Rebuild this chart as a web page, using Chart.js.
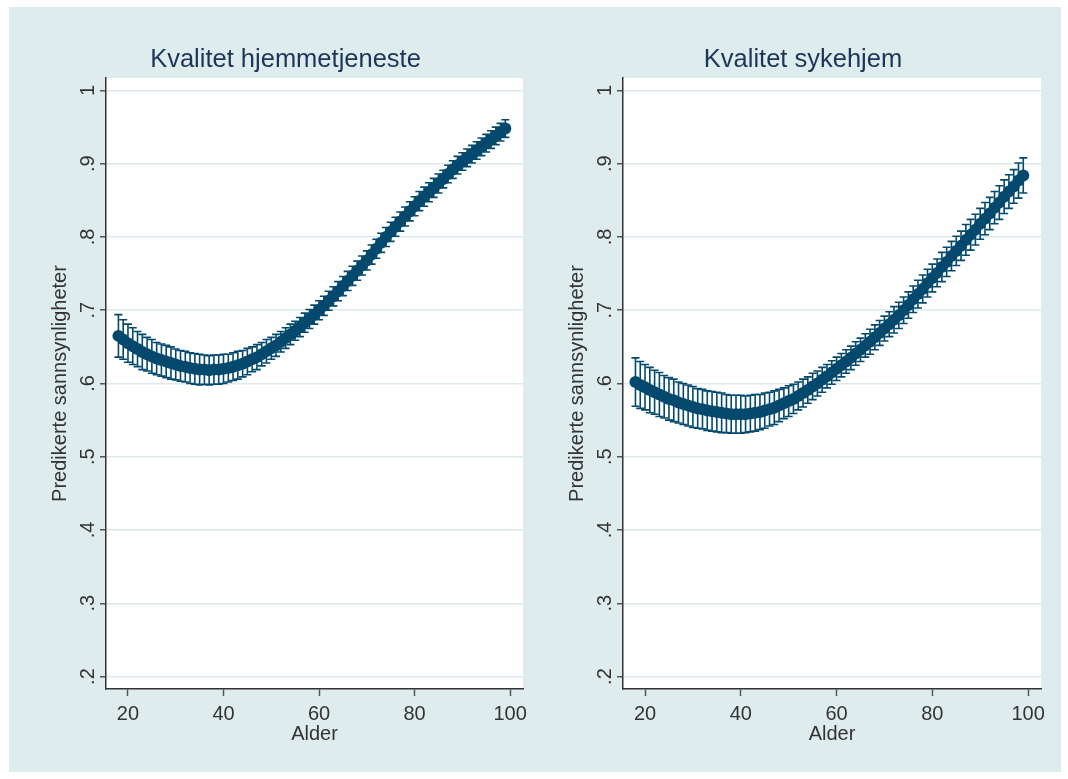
<!DOCTYPE html>
<html>
<head>
<meta charset="utf-8">
<script src="https://cdn.jsdelivr.net/npm/chart.js"></script>
<style>
  body { margin: 0; background: #fff; }
  #wrap { position: absolute; left: 9px; top: 7px; width: 1052px; height: 765px; background: #dfecee; }
  canvas { position: absolute; top: 0; }
  #c1 { left: 0; }
  #c2 { left: 535px; }
</style>
</head>
<body>
<div id="wrap">
  <canvas id="c1" width="553" height="765"></canvas>
  <canvas id="c2" width="518" height="765"></canvas>
</div>
<script>
const alder = [18,19,20,21,22,23,24,25,26,27,28,29,30,31,32,33,34,35,36,37,38,39,40,41,42,43,44,45,46,47,
  48,49,50,51,52,53,54,55,56,57,58,59,60,61,62,63,64,65,66,67,68,69,70,71,72,73,74,75,76,77,
  78,79,80,81,82,83,84,85,86,87,88,89,90,91,92,93,94,95,96,97,98,99]

// Kvalitet hjemmetjeneste
const hjemMean = [.665,.660,.655,.651,.647,.643,.640,.637,.634,.632,
  .630,.628,.626,.624,.623,.621,.620,.619,.619,.618,
  .619,.619,.620,.621,.623,.625,.627,.630,.633,.636,
  .640,.644,.648,.652,.657,.662,.667,.672,.677,.683,
  .688,.694,.700,.706,.713,.719,.726,.733,.740,.747,
  .754,.761,.768,.776,.784,.792,.800,.807,.814,.821,
  .828,.835,.842,.849,.855,.861,.867,.873,.879,.886,
  .892,.898,.903,.908,.913,.918,.923,.928,.933,.938,
  .943,.948]
const hjemHalf = [.029,.027,.026,.025,.024,.024,.023,.023,.022,.022,
  .022,.022,.021,.021,.021,.021,.021,.021,.020,.020,
  .020,.020,.020,.019,.019,.019,.018,.018,.017,.017,
  .016,.016,.015,.015,.014,.014,.014,.013,.013,.013,
  .013,.013,.013,.013,.013,.013,.013,.013,.013,.013,
  .013,.013,.013,.013,.013,.013,.013,.013,.013,.013,
  .013,.013,.013,.013,.013,.013,.013,.013,.012,.012,
  .012,.012,.012,.012,.012,.012,.012,.012,.012,.012,
  .012,.012]

// Kvalitet sykehjem
const sykeMean = [.602,.598,.595,.591,.588,.585,.582,.579,.577,.574,
  .572,.570,.568,.566,.565,.563,.562,.561,.560,.559,
  .558,.558,.558,.558,.559,.560,.561,.563,.565,.567,
  .570,.573,.576,.579,.583,.587,.591,.596,.600,.605,
  .610,.615,.620,.625,.630,.635,.641,.646,.652,.657,
  .663,.669,.675,.681,.687,.693,.700,.707,.715,.722,
  .729,.737,.744,.751,.759,.766,.774,.781,.788,.796,
  .803,.810,.818,.825,.832,.840,.847,.855,.862,.869,
  .877,.884]
const sykeHalf = [.033,.032,.031,.031,.030,.030,.029,.029,.029,.028,
  .028,.028,.028,.027,.027,.027,.027,.027,.027,.026,
  .026,.026,.026,.025,.025,.025,.024,.024,.023,.023,
  .022,.021,.021,.020,.019,.019,.018,.018,.017,.017,
  .016,.016,.016,.016,.016,.016,.016,.016,.016,.017,
  .017,.017,.017,.017,.018,.018,.018,.018,.018,.019,
  .019,.019,.019,.019,.020,.020,.020,.020,.020,.021,
  .021,.021,.021,.022,.022,.022,.023,.023,.023,.023,
  .024,.024]

const xTicks = [20, 40, 60, 80, 100]
const yTicks = [.2, .3, .4, .5, .6, .7, .8, .9, 1]

const navy = '#03496d'
const fam = "'Liberation Sans', Arial, sans-serif"
const tickFont = { family: fam, size: 20 }

// white plot region
const plotBg = {
  id: 'plotBg',
  beforeDraw(chart) {
    const a = chart.chartArea
    chart.ctx.save()
    chart.ctx.fillStyle = '#fff'
    chart.ctx.fillRect(a.left, a.top, a.right - a.left, a.bottom - a.top)
    chart.ctx.restore()
  }
}

// confidence intervals drawn as capped spikes (rcap)
const errorBars = {
  id: 'errorBars',
  beforeDatasetsDraw(chart) {
    const { ctx, scales: { x, y } } = chart
    const ds = chart.data.datasets[0]
    ctx.save()
    ctx.strokeStyle = navy
    ctx.lineWidth = 1.6
    ds.ciLo.forEach((lo, i) => {
      const px = x.getPixelForValue(alder[i])
      const y1 = y.getPixelForValue(lo)
      const y2 = y.getPixelForValue(ds.ciHi[i])
      ctx.beginPath()
      ctx.moveTo(px, y1); ctx.lineTo(px, y2)
      ctx.moveTo(px - 4, y1); ctx.lineTo(px + 4, y1)
      ctx.moveTo(px - 4, y2); ctx.lineTo(px + 4, y2)
      ctx.stroke()
    })
    ctx.restore()
  }
}

function panel(id, title, mean, half, padLeft, padRight) {
  new Chart(document.getElementById(id), {
    type: 'line',
    data: {
      datasets: [{
        data: alder.map((a, i) => ({ x: a, y: mean[i] })),
        ciLo: mean.map((m, i) => m - half[i]),
        ciHi: mean.map((m, i) => m + half[i]),
        borderColor: navy,
        backgroundColor: navy,
        borderWidth: 2,
        pointRadius: 6,
        pointHoverRadius: 6,
        pointBorderWidth: 0,
        pointBackgroundColor: navy,
        tension: 0
      }]
    },
    options: {
      responsive: false,
      animation: false,
      events: [],
      layout: { padding: { top: 37.7, left: padLeft, right: padRight, bottom: 28 } },
      plugins: {
        legend: { display: false },
        tooltip: { enabled: false },
        title: {
          display: true,
          text: title,
          color: '#1c3658',
          font: { family: fam, size: 25.5, weight: 'normal' },
          padding: { top: 0, bottom: 2.7 }
        }
      },
      scales: {
        x: {
          type: 'linear',
          min: 15.4,
          max: 102.7,
          afterBuildTicks: s => { s.ticks = xTicks.map(v => ({ value: v })) },
          afterFit: s => { s.height = 55 },
          grid: { drawOnChartArea: false, tickLength: 7, tickColor: '#555', tickWidth: 1.5 },
          border: { color: '#333', width: 1.5 },
          ticks: { font: tickFont, color: '#333', padding: 6, maxRotation: 0 },
          title: { display: true, text: 'Alder', font: { family: fam, size: 20, lineHeight: 1 }, color: '#333', padding: { top: 0, bottom: 0 } }
        },
        y: {
          type: 'linear',
          min: .183,
          max: 1.017,
          afterBuildTicks: s => { s.ticks = yTicks.map(v => ({ value: v })) },
          afterFit: s => { s.width = 58 },
          grid: { color: '#dde9eb', lineWidth: 1.5, tickLength: 6, tickColor: '#555', tickWidth: 1.5 },
          border: { color: '#333', width: 1.5 },
          ticks: {
            font: tickFont, color: '#333', padding: 3,
            minRotation: 90, maxRotation: 90, crossAlign: 'center',
            callback: v => v === 1 ? '1' : '.' + Math.round(v * 10)
          },
          title: { display: true, text: 'Predikerte sannsynligheter', font: tickFont, color: '#333', padding: { top: 0, bottom: 0 } }
        }
      }
    },
    plugins: [plotBg, errorBars]
  })
}

panel('c1', 'Kvalitet hjemmetjeneste', hjemMean, hjemHalf, 39, 39)
panel('c2', 'Kvalitet sykehjem', sykeMean, sykeHalf, 21, 21)
</script>
</body>
</html>
